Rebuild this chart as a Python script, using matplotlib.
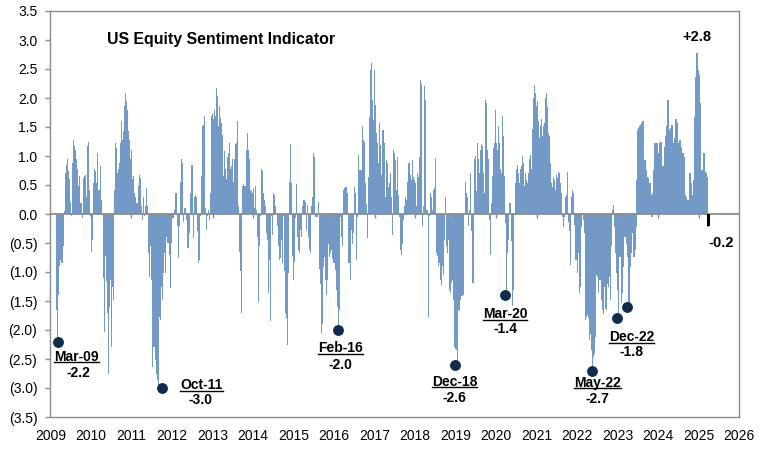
import numpy as np
import pandas as pd
import matplotlib
matplotlib.use("Agg")
import matplotlib.pyplot as plt
from matplotlib.lines import Line2D
from matplotlib.transforms import IdentityTransform

plt.rcParams['font.family'] = ['Liberation Sans', 'DejaVu Sans']

BAR_COLOR = "#7399C6"
DOT_COLOR = "#0C2D4E"
AXIS_GRAY = "#8C8C8C"

#Indicator readings, roughly weekly (Feb-2009 .. Mar-2025)
sentiment_2009_2011 = [
    -1.65, -2.2, -1.4, -0.9, -0.8, -0.85, -0.85, -0.55, 0.05, 0.7,
    0.85, 0.95, 0.75, 0.6, 0.2, -0.04, 0.88, 1.28, 1.17, 1.1,
    0.94, 0.77, 0.48, 0.65, 0.19, 0.19, -0.07, 0.62, 0.65, 0.68,
    0.3, 1.17, 1.25, 0.42, -0.04, -0.65, -0.44, 0.53, 0.77, 0.74,
    0.53, 1.05, 0.42, 0.42, 0.82, 0.25, 0.0, -1.1, -2.03, -0.73,
    -1.16, -1.7, -2.75, -1.6, -1.13, -2.3, -1.25, -1.48, 0.42, 1.23,
    1.14, 0.7, 0.77, 0.88, 1.23, 1.6, 1.28, 1.43, 1.86, 2.09,
    1.95, 1.8, 1.43, 1.28, 0.94, 1.11, 0.6, 0.65, 0.36, 0.3,
    0.19, 0.19, 0.48, 0.68, 0.62, 0.13, -0.1, 0.3, -0.04, 0.13,
    0.45, 0.13, -0.67, -1.08, -0.56, -1.13, -2.63, -2.3, -2.3, -2.52,
    -2.75, -2.86, -3.0, -1.77, -1.83, -1.25, -1.48, -1.02, -0.67, -1.02,
    -0.39, -0.5, -0.5, -0.7, -1.28, -0.5, -0.07]
sentiment_2012_2014 = [
    -0.07, 0.07, 0.36, 0.36, -0.2, -0.76, -0.2, 0.56, 0.94, 0.88,
    -0.13, 0.1, 0.1, -0.1, -0.59, -0.59, -0.33, 0.36, 0.85, 0.85,
    -0.41, 0.3, 0.33, 0.3, -0.3, -0.85, -0.79, -0.04, 0.65, 1.51,
    1.54, 1.69, 0.1, -0.27, -0.04, 0.07, -0.1, 0.36, 1.69, 1.72,
    1.63, 1.8, 1.69, 2.18, 2.03, 1.51, 1.86, 1.66, 1.57, 1.37,
    0.65, 1.09, 0.77, 0.6, 0.99, 1.05, 1.23, 0.77, 0.82, 0.94,
    0.56, 0.94, 1.2, 1.23, 1.6, 0.13, -0.65, -0.99, -1.71, 0.48,
    0.51, 0.48, 0.48, 1.11, 1.4, 1.11, 0.94, 0.42, 0.4, 0.36,
    0.45, 0.1, 0.48, 0.07, -0.39, -1.51, -0.56, -0.04, 0.77, 0.74,
    0.36, 0.25, 0.13, -0.33, -0.44, -1.36, -0.79, -1.85, -0.04, -0.36,
    0.36, 0.33, 0.13, -0.01, -0.21, -0.56, -0.79, -0.76, -0.44, -0.85,
    -0.04, -0.99, -1.71, -1.8, -2.26, -1.02, 0.56, 1.2, 0.53, -0.73,
    -1.13, -0.82, -0.07, 0.51, -0.39]
sentiment_2015_2017 = [
    -0.62, -0.68, -0.28, -0.39, 0.13, 0.24, 0.24, 0.21, -0.28, 0.16,
    -0.39, -0.62, -0.68, 0.13, 0.3, 1.05, 0.99, -0.05, -0.05, -0.05,
    0.21, -0.94, -1.2, -2.06, -1.89, -0.91, -0.74, -1.14, -1.4, -1.14,
    -0.51, -0.74, -0.68, -0.62, -0.77, -0.85, -0.85, -0.97, -1.31, -1.6,
    -2.0, -1.66, -0.05, -0.39, -0.56, 0.41, 0.44, 0.47, 0.47, 0.36,
    -0.85, -0.85, -1.14, -0.28, -0.51, -0.33, 0.47, 0.36, -0.8, -0.05,
    1.02, 0.76, 0.76, 0.76, 1.51, 1.28, 1.25, 0.53, 0.18, -0.42,
    0.64, 1.68, 2.49, 2.6, 1.97, 1.62, 2.49, 1.88, 1.39, 1.22,
    0.88, 1.57, 1.19, 0.67, 1.45, 1.45, 1.22, 0.3, 0.93, 0.88,
    0.47, 0.53, 0.7, 0.3, -0.36, 1.1, 1.05, 0.93, 0.41, 0.99,
    0.33, -0.05, -0.62, -0.71, -0.51, -0.1, 0.13, 0.3, 0.24, 0.56,
    0.88, 0.88, 0.67, 0.59, 0.93, 0.64, 0.59, 0.53, 0.13, 0.7,
    0.64, 0.99, 2.31, 2.25]
sentiment_2018_2021 = [
    -0.21, 0.13, 2.2, 1.97, 0.07, 0.07, -1.77, -0.04, 0.36, 0.3,
    0.07, 0.42, 0.45, 0.97, -0.67, -0.73, -0.9, -0.85, -1.13, -1.22,
    -0.9, -1.05, -0.44, 0.3, -0.56, -0.67, -0.44, -1.31, -1.36, -1.19,
    -1.13, -1.48, -2.29, -2.32, -2.35, -2.58, -1.65, -1.68, -1.48, -1.42,
    -1.42, -1.39, -0.01, 0.56, 0.36, 0.3, -0.21, 0.07, 0.7, -0.3,
    -1.19, -1.19, 0.94, 1.0, 0.39, 1.23, 0.94, 0.7, 1.11, 1.2,
    1.17, 0.7, 0.36, 1.97, 1.91, 1.11, 0.94, -0.1, -0.7, 0.19,
    0.65, 1.14, 1.23, 1.8, 1.23, 1.11, 1.51, 1.23, 0.77, 0.7,
    1.69, 1.34, 0.65, -0.16, -1.42, -0.67, -0.44, 0.19, 0.19, -0.47,
    -1.59, -1.31, -0.01, 0.53, 0.77, 0.85, 0.7, 0.53, 0.77, 0.82,
    1.0, 0.88, 0.48, 0.7, 0.59, 0.53, 0.7, 0.94, 1.02, 0.77,
    1.46, 2.0, 2.23, 2.09, 1.86, 1.95, 1.6, 1.31, 1.51, 1.63,
    1.34, 1.51, 1.57, 2.0, 2.09]
sentiment_2021_2023 = [
    1.85, 1.39, 1.34, 0.88, 0.53, 0.47, 0.64, 0.59, 0.41, 0.67,
    0.62, 0.73, 0.7, 0.53, 0.36, -0.05, -0.22, -0.05, 0.3, 0.33,
    0.73, -0.13, -0.3, -0.88, 0.3, 0.41, 0.36, -0.19, -0.79, -0.79,
    -1.02, -0.68, -1.37, -1.25, -0.22, 0.01, -0.1, -0.33, -1.83, -1.77,
    -1.74, -1.8, -2.18, -2.07, -2.35, -2.66, -2.46, -2.41, -2.12, -1.05,
    -1.08, -1.37, -1.14, -1.14, -1.48, -1.66, -1.72, -1.25, -1.63, -1.66,
    -1.2, -1.25, -1.08, -1.48, -0.56, 0.07, 0.16, -0.22, -0.68, -1.02,
    -1.31, -1.82, -0.74, -0.74, -1.54, -1.37, -0.91, -0.39, -0.39, -0.51,
    -0.74, -1.58, -0.91, -0.68, -0.3, -0.33, -0.74, -0.62, -0.22]
sentiment_2023_2025 = [
    0.59, 1.45, 1.48, 1.51, 1.54, 1.57, 1.6, 0.93, 0.93, 0.76,
    0.64, 0.62, 0.41, 0.53, 0.33, -0.05, 0.36, 0.76, 1.22, 1.1,
    1.22, 0.59, 1.05, 1.22, 1.25, 0.24, 0.82, 0.76, 1.16, 1.34,
    1.51, 1.97, 1.45, 1.1, 1.48, 1.54, 1.0, 1.22, 1.31, 1.63,
    1.57, 1.05, 1.22, 1.28, 1.16, 1.05, 1.05, 0.99, 0.33, 0.3,
    0.24, 0.01, 0.24, 0.7, 0.53, 0.33, 0.3, 0.59, 1.68, 2.37,
    2.77, 2.49, 2.4, 1.91, 0.53, 0.76, 0.7, 1.05, 0.73, 0.7,
    0.64, -0.22]

latest_value = -0.2

#Labelled lows
trough_dates = ["2009-03-06", "2011-10-07", "2016-02-05", "2018-12-24",
                "2020-03-23", "2022-05-20", "2022-12-30", "2023-03-24"]
trough_values = [-2.2, -3.0, -2.0, -2.6, -1.4, -2.7, -1.8, -1.6]
trough_names = ["Mar-09", "Oct-11", "Feb-16", "Dec-18", "Mar-20", "May-22", "Dec-22", None]

#label offsets from the dot, pixels (name, value)
name_offsets = [(19, -15), (39, 3), (3, -18), (0, -17), (0, -19), (5, -12), (14, -19), None]
value_offsets = [(21, -31), (38, -12), (3, -35), (0, -33), (0, -34), (5, -28), (14, -34), None]

years = list(range(2009, 2027))

values = np.array(sentiment_2009_2011 + sentiment_2012_2014 + sentiment_2015_2017 +
                  sentiment_2018_2021 + sentiment_2021_2023 + sentiment_2023_2025)
dates = pd.date_range("2009-02-21", "2025-03-27", periods=len(values))
step = (dates[1] - dates[0]).total_seconds() / 86400.0

fig = plt.figure(figsize=(7.64, 4.62), dpi=100)
ax = fig.add_axes([50.5 / 764, 45 / 462, 688.5 / 764, 406 / 462])

#bars a bit wider than the spacing so antialiasing leaves no white gaps
ax.bar(dates, values, width=step * 1.3, color=BAR_COLOR, linewidth=0, zorder=2)
ax.bar(dates[-1] + pd.Timedelta(days=4), latest_value, width=28, color="black", linewidth=0, zorder=4)

ax.axhline(0, color=AXIS_GRAY, lw=1.3, zorder=3)
year_marks = [pd.Timestamp(f"{y}-01-01") for y in years[1:-1]]
ax.vlines(year_marks, -0.07, 0, color=AXIS_GRAY, lw=1, zorder=3)

ax.set_xlim(pd.Timestamp("2009-01-01"), pd.Timestamp("2026-01-01"))
ax.set_ylim(-3.5, 3.5)
ax.set_xticks([pd.Timestamp(f"{y}-01-01") for y in years])
ax.set_xticklabels([str(y) for y in years])
yt = np.arange(-3.5, 3.51, 0.5)
ax.set_yticks(yt)
ax.set_yticklabels([f"{v:.1f}" if v >= -0.01 else f"({-v:.1f})" for v in yt])
ax.tick_params(axis='x', length=0, pad=9, labelsize=10)
ax.tick_params(axis='y', length=3.5, width=1, color=AXIS_GRAY, pad=6, labelsize=10)
for s in ax.spines.values():
    s.set_color(AXIS_GRAY)
    s.set_linewidth(1)

ax.text(0.082, 0.9286, "US Equity Sentiment Indicator", transform=ax.transAxes,
        ha='left', va='center', fontsize=11.4, fontweight='bold')

name_texts = []
for d, v, nm, no, vo in zip(trough_dates, trough_values, trough_names, name_offsets, value_offsets):
    d = pd.Timestamp(d)
    ax.plot(d, v, 'o', ms=6.8, color=DOT_COLOR, zorder=5)
    if nm is None:
        continue
    t = ax.annotate(nm, (d, v), xytext=no, textcoords='offset pixels', ha='center', va='center',
                    fontsize=10, fontweight='bold')
    name_texts.append(t)
    ax.annotate(f"{v:.1f}", (d, v), xytext=vo, textcoords='offset pixels', ha='center', va='center',
                fontsize=10, fontweight='bold')

imax = int(np.argmax(values))
ax.annotate(f"+{values[imax]:.1f}", (dates[imax], values[imax]), xytext=(0, 16), textcoords='offset pixels',
            ha='center', va='center', fontsize=10.5, fontweight='bold')
ax.annotate(f"{latest_value:.1f}", (dates[-1], latest_value), xytext=(13, -17), textcoords='offset pixels',
            ha='center', va='center', fontsize=10.5, fontweight='bold')

#underline the date labels
fig.canvas.draw()
renderer = fig.canvas.get_renderer()
for t in name_texts:
    bb = t.get_window_extent(renderer)
    y = bb.y0 + 1.5
    fig.add_artist(Line2D([bb.x0, bb.x1], [y, y], transform=IdentityTransform(), color="black", lw=1))

fig.savefig("out.png", dpi=100)
